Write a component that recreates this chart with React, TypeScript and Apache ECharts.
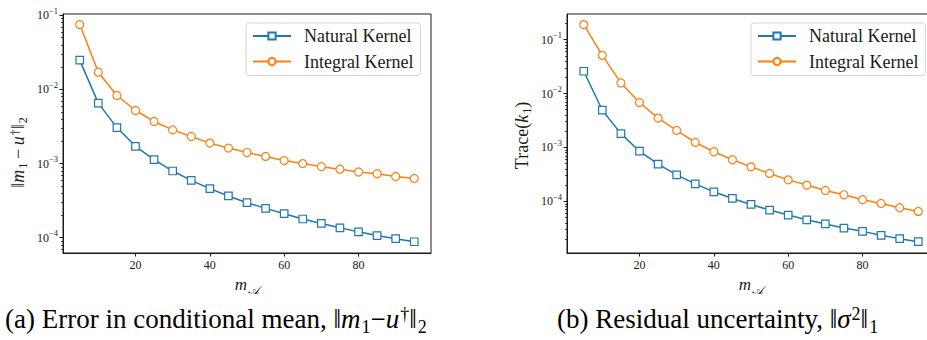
import React, { useEffect, useRef } from "react";
import * as echarts from "echarts";

// Number of design points m_A
const mValues = [5, 10, 15, 20, 25, 30, 35, 40, 45, 50, 55, 60, 65, 70, 75, 80, 85, 90, 95];

// (a) error in conditional mean
const errorNatural = [
  0.0249, 0.00654, 0.00306, 0.00171, 0.00113, 0.000794, 0.000594, 0.000459, 0.000366, 0.000297,
  0.000249, 0.000211, 0.000179, 0.000156, 0.000136, 0.00012, 0.000107, 0.0000971, 0.0000883,
];
const errorIntegral = [
  0.075, 0.0171, 0.0083, 0.0052, 0.0037, 0.00285, 0.00232, 0.00189, 0.00162, 0.00141, 0.00125,
  0.0011, 0.001, 0.00091, 0.00084, 0.00077, 0.00073, 0.00067, 0.00063,
];

// (b) residual uncertainty
const traceNatural = [
  0.0259, 0.0049, 0.0018, 0.00085, 0.00049, 0.00031, 0.000211, 0.00015, 0.000113, 0.0000875,
  0.0000687, 0.0000555, 0.0000454, 0.000038, 0.0000319, 0.0000277, 0.0000234, 0.0000203, 0.0000178,
];
const traceIntegral = [
  0.19, 0.051, 0.0157, 0.0068, 0.0035, 0.00207, 0.00124, 0.00083, 0.00059, 0.000436, 0.000329,
  0.00025, 0.0002, 0.000159, 0.000132, 0.000107, 0.0000912, 0.0000759, 0.000065,
];

const seriesNames = ["Natural Kernel", "Integral Kernel"];
const xTicks = [20, 40, 60, 80];
const decadeTicks = [1e-1, 1e-2, 1e-3, 1e-4];

const BLUE = "#1f77b4";
const ORANGE = "#ff7f0e";
const INK = "#1a1a1a";
const SERIF = "Liberation Serif";

// axis extents (log10 space) for each panel
const errorExtent = [Math.pow(10, -4.206), Math.pow(10, -0.982)];
const traceExtent = [Math.pow(10, -4.959), Math.pow(10, -0.525)];

function minorValues(lo: number, hi: number): number[] {
  const out: number[] = [];
  for (let e = Math.floor(Math.log10(lo)); e <= Math.ceil(Math.log10(hi)); e++) {
    for (let k = 2; k <= 9; k++) {
      const v = k * Math.pow(10, e);
      if (v >= lo && v <= hi) out.push(v);
    }
  }
  return out;
}

const tickRich = {
  b: { fontFamily: SERIF, fontSize: 12, color: INK, verticalAlign: "bottom", lineHeight: 12 },
  s: { fontFamily: SERIF, fontSize: 8.5, color: INK, verticalAlign: "bottom", lineHeight: 8.5, padding: [0, 0, 6, 0] },
};

function decadeLabel(v: number) {
  const e = Math.round(Math.log10(v));
  return `{b|10}{s|${e < 0 ? "\u2212" : ""}${Math.abs(e)}}`;
}

const mathRich = (size: number) => {
  const small = Math.round(size * 0.68);
  const lift = Math.round(size * 0.18);
  return {
    n: { fontFamily: SERIF, fontSize: size, color: INK, verticalAlign: "bottom", lineHeight: size, padding: [0, 0, lift, 0] },
    i: { fontFamily: SERIF, fontStyle: "italic", fontSize: size, color: INK, verticalAlign: "bottom", lineHeight: size, padding: [0, 0, lift, 0] },
    sub: { fontFamily: SERIF, fontSize: small, color: INK, verticalAlign: "bottom", lineHeight: small, padding: [0, 0, 1, 1] },
    sup: { fontFamily: SERIF, fontSize: small, color: INK, verticalAlign: "bottom", lineHeight: small, padding: [0, 0, Math.round(size * 0.52), 1] },
    cal: { fontFamily: "DejaVu Sans", fontStyle: "italic", fontSize: small, color: INK, verticalAlign: "bottom", lineHeight: small, padding: [0, 0, 0, 1] },
  };
};

const panels = [
  {
    left: 63,
    natural: errorNatural,
    integral: errorIntegral,
    extent: errorExtent,
    yName: "{n|\u2016}{i|m}{sub|1}{n|\u2009\u2212\u2009}{i|u}{sup|\u2020}{n|\u2016}{sub|2}",
    yNamePad: [0, 38, 0, 0],
    legendLeft: 246,
  },
  {
    left: 567,
    natural: traceNatural,
    integral: traceIntegral,
    extent: traceExtent,
    yName: "{n|Trace(}{i|k}{sub|1}{n|)}",
    yNamePad: [0, 4, 0, 0],
    legendLeft: 751,
  },
];

const GRID_W = 368;
const GRID_TOP = 14;
const GRID_H = 239;

export default function App() {
  const ref = useRef<HTMLDivElement>(null);

  useEffect(() => {
    document.body.style.margin = "0";
    if (!ref.current) return;
    const chart = echarts.init(ref.current, undefined, { renderer: "svg" });

    const axisLineStyle = { color: INK, width: 1 };

    const grid = panels.map((p) => ({
      left: p.left,
      top: GRID_TOP,
      width: GRID_W,
      height: GRID_H,
      show: true,
      borderColor: INK,
      borderWidth: 1,
      backgroundColor: "transparent",
    }));

    const xAxis = panels.map((_, gi) => ({
      gridIndex: gi,
      type: "value",
      min: 0.5,
      max: 99.5,
      axisLine: { show: true, onZero: false, lineStyle: axisLineStyle },
      axisTick: { show: true, inside: false, length: 3.5, customValues: xTicks, lineStyle: axisLineStyle },
      axisLabel: { customValues: xTicks, fontFamily: SERIF, fontSize: 12, color: INK, margin: 6 },
      splitLine: { show: false },
      name: "{i|m}{cal|\uD835\uDC9C}",
      nameLocation: "middle",
      nameGap: 10,
      nameTextStyle: { rich: mathRich(17) },
    }));

    const yAxis: any[] = [];
    panels.forEach((p, gi) => {
      yAxis.push({
        gridIndex: gi,
        type: "log",
        logBase: 10,
        position: "left",
        min: p.extent[0],
        max: p.extent[1],
        axisLine: { show: true, onZero: false, lineStyle: axisLineStyle },
        axisTick: { show: true, inside: false, length: 3.5, customValues: decadeTicks, lineStyle: axisLineStyle },
        axisLabel: { customValues: decadeTicks, formatter: decadeLabel, rich: tickRich, fontFamily: SERIF, margin: 5 },
        splitLine: { show: false },
        name: p.yName,
        nameLocation: "middle",
        nameRotate: 90,
        nameGap: 33,
        nameTextStyle: { fontFamily: SERIF, padding: p.yNamePad, rich: mathRich(18) },
      });
      yAxis.push({
        gridIndex: gi,
        type: "log",
        logBase: 10,
        position: "left",
        min: p.extent[0],
        max: p.extent[1],
        axisLine: { show: false, onZero: false },
        axisTick: { show: true, inside: false, length: 2, customValues: minorValues(p.extent[0], p.extent[1]), lineStyle: { color: INK, width: 0.8 } },
        axisLabel: { show: false },
        splitLine: { show: false },
      });
    });

    const series: any[] = [];
    panels.forEach((p, gi) => {
      [p.natural, p.integral].forEach((vals, k) => {
        const color = k === 0 ? BLUE : ORANGE;
        series.push({
          type: "line",
          name: seriesNames[k],
          xAxisIndex: gi,
          yAxisIndex: gi * 2,
          data: mValues.map((m, i) => [m, vals[i]]),
          symbol: k === 0 ? "rect" : "circle",
          symbolSize: k === 0 ? 7.5 : 8,
          showAllSymbol: true,
          lineStyle: { color, width: 1.5 },
          itemStyle: { color: "#ffffff", borderColor: color, borderWidth: 1.2 },
          emphasis: { disabled: true },
          z: 2 + k,
        });
      });
    });

    const legend = panels.map((p) => ({
      data: seriesNames,
      orient: "vertical",
      left: p.legendLeft,
      top: 23,
      padding: [4, 7, 5, 6],
      itemGap: 7.5,
      itemWidth: 38,
      itemHeight: 9,
      backgroundColor: "rgba(255,255,255,0.8)",
      borderColor: "#d4d4d4",
      borderWidth: 1,
      borderRadius: 3,
      selectedMode: false,
      textStyle: { fontFamily: SERIF, fontSize: 18, color: INK, lineHeight: 18, padding: [0, 0, 0, 8] },
    }));

    const captionRich = mathRich(27);
    const graphic = [
      {
        type: "text",
        left: 5,
        top: 305,
        style: {
          text: "{n|(a) Error in conditional mean, \u2016}{i|m}{sub|1}{n|\u2212}{i|u}{sup|\u2020}{n|\u2016}{sub|2}",
          rich: captionRich,
        },
      },
      {
        type: "text",
        left: 557,
        top: 305,
        style: {
          text: "{n|(b) Residual uncertainty, \u2016}{i|\u03C3}{sup|2}{n|\u2016}{sub|1}",
          rich: captionRich,
        },
      },
    ];

    chart.setOption({
      animation: false,
      backgroundColor: "#ffffff",
      textStyle: { fontFamily: SERIF },
      grid,
      xAxis,
      yAxis,
      legend,
      series,
      graphic,
    });

    return () => chart.dispose();
  }, []);

  return (
    <div style={{ width: 927, height: 340, overflow: "hidden", background: "#fff" }}>
      <div ref={ref} style={{ width: 945, height: 340 }} />
    </div>
  );
}
